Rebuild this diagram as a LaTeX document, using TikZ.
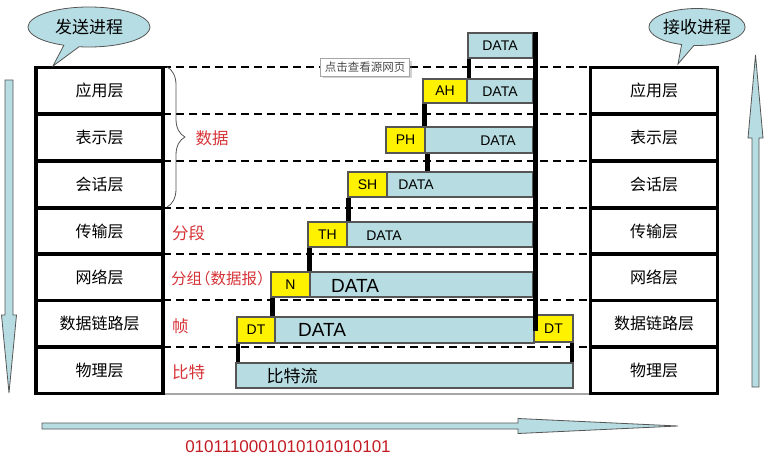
\documentclass[tikz,border=0pt]{standalone}
\usepackage{fontspec}
\setmainfont{Liberation Sans}
\newfontfamily\cjk{Noto Sans CJK SC}
\usetikzlibrary{shapes.callouts,shadows,calc,decorations.pathreplacing}
\definecolor{lb}{RGB}{183,221,226}
\definecolor{bub}{RGB}{183,221,228}
\definecolor{edge}{RGB}{85,85,85}
\definecolor{lbl}{RGB}{214,52,56}
\definecolor{bin}{RGB}{196,28,36}
\tikzset{
  layerbox/.style={draw=black, line width=3.5pt, fill=white, minimum width=127pt, minimum height=46.5pt, inner sep=0pt, font=\cjk\fontsize{16}{16}\selectfont},
  sepline/.style={line width=1.8pt, dash pattern=on 8pt off 5pt},
  datab/.style={draw=edge, line width=1.1pt, fill=lb, inner sep=0pt},
  hdrbox/.style={draw=edge, line width=1.1pt, fill=yellow, inner sep=0pt, font=\fontsize{14}{14}\selectfont},
  dtext/.style={inner sep=0pt, font=\fontsize{14}{14}\selectfont},
  bigtext/.style={inner sep=0pt, font=\fontsize{19}{19}\selectfont},
  marker/.style={line width=4.5pt, black},
  redlabel/.style={text=lbl, inner sep=0pt, font=\cjk\fontsize{16.5}{16.5}\selectfont},
  bubble/.style={ellipse callout, draw=edge, line width=0.8pt, fill=bub, inner sep=0pt, font=\cjk\fontsize{17}{17}\selectfont},
  bigarrow/.style={draw=edge, line width=0.8pt, fill=lb}
}
\begin{document}
\begin{tikzpicture}[x=1pt,y=-1pt]
\useasboundingbox (0,0) rectangle (778,455);
\fill[white] (0,0) rectangle (778,455);

% dashed separators (drawn first, behind)
\coordinate (dl0) at (163,67);  \coordinate (dr0) at (590,67);
\coordinate (dl1) at (163,114); \coordinate (dr1) at (590,114);
\coordinate (dl2) at (163,161); \coordinate (dr2) at (590,161);
\coordinate (dl3) at (163,208); \coordinate (dr3) at (590,208);
\coordinate (dl4) at (163,254); \coordinate (dr4) at (590,254);
\coordinate (dl5) at (163,300); \coordinate (dr5) at (590,300);
\coordinate (dl6) at (163,347); \coordinate (dr6) at (590,347);
\foreach \i in {0,...,6} { \draw[sepline] (dl\i) -- (dr\i); }
\coordinate (gl) at (163,394); \coordinate (gr) at (590,394);
\draw[gray!70, line width=1.3pt] (gl) -- (gr);

% left stack
\node[layerbox] (L1) at (99.5,90.5) {应用层};
\node[layerbox] (L2) at (99.5,137.5) {表示层};
\node[layerbox] (L3) at (99.5,184.5) {会话层};
\node[layerbox] (L4) at (99.5,231) {传输层};
\node[layerbox] (L5) at (99.5,277) {网络层};
\node[layerbox] (L6) at (99.5,323.5) {数据链路层};
\node[layerbox] (L7) at (99.5,370) {物理层};
% right stack
\node[layerbox] (R1) at (654,90.5) {应用层};
\node[layerbox] (R2) at (654,137.5) {表示层};
\node[layerbox] (R3) at (654,184.5) {会话层};
\node[layerbox] (R4) at (654,231) {传输层};
\node[layerbox] (R5) at (654,277) {网络层};
\node[layerbox] (R6) at (654,323.5) {数据链路层};
\node[layerbox] (R7) at (654,370) {物理层};

% brace and red labels
\coordinate (bt) at (167,67); \coordinate (bb) at (167,207);
\draw[edge, line width=0.8pt, decorate, decoration={brace, amplitude=18pt}] (bt) -- (bb);
\node[redlabel] (lab1) at (212,138) {数据};
\node[redlabel, anchor=west] (lab2) at (172,233) {分段};
\node[redlabel, anchor=west, font=\cjk\fontsize{15.5}{15.5}\selectfont] (lab3) at (171,279) {分组\kern-7pt（数据报）};
\node[redlabel, anchor=west] (lab4) at (172,326) {帧};
\node[redlabel, anchor=west] (lab5) at (172,372) {比特};

% data blocks
\node[datab, minimum width=65pt, minimum height=25pt] (D0) at (500.5,45.5) {};
\node[hdrbox, minimum width=44pt, minimum height=24pt] (AH) at (445,91) {AH};
\node[datab, minimum width=66pt, minimum height=24pt] (D1) at (500,91) {};
\node[hdrbox, minimum width=39pt, minimum height=26pt] (PH) at (405.5,140) {PH};
\node[datab, minimum width=108pt, minimum height=26pt] (D2) at (479,140) {};
\node[hdrbox, minimum width=39pt, minimum height=25pt] (SH) at (367.5,184.5) {SH};
\node[datab, minimum width=146pt, minimum height=25pt] (D3) at (460,184.5) {};
\node[hdrbox, minimum width=39pt, minimum height=25pt] (TH) at (327.5,234.5) {TH};
\node[datab, minimum width=186pt, minimum height=25pt] (D4) at (440,234.5) {};
\node[hdrbox, minimum width=39pt, minimum height=25pt] (NH) at (290.5,284.5) {N};
\node[datab, minimum width=223pt, minimum height=25pt] (D5) at (421.5,284.5) {};
\node[hdrbox, minimum width=38pt, minimum height=26pt] (DT1) at (256,330) {DT};
\node[datab, minimum width=259pt, minimum height=26pt] (D6) at (404.5,330) {};
\node[hdrbox, minimum width=39pt, minimum height=27pt] (DT2) at (553.5,328.5) {DT};
\node[datab, minimum width=337pt, minimum height=25pt] (BS) at (404.5,375.5) {};

% texts inside blocks
\node[dtext] (t0) at (500,46) {DATA};
\node[dtext] (t1) at (500,92) {DATA};
\node[dtext] (t2) at (498,141) {DATA};
\node[dtext] (t3) at (416,185) {DATA};
\node[dtext] (t4) at (384,236) {DATA};
\node[bigtext] (t5) at (355,286) {DATA};
\node[bigtext] (t6) at (322,330) {DATA};
\node[inner sep=0pt, font=\cjk\fontsize{17}{17}\selectfont] (tb) at (292,376) {比特流};

% black markers
\draw[marker] ([xshift=1.5pt]D0.south west) -- ([xshift=1.5pt]D0.south west |- D1.north);
\draw[marker] ([xshift=2pt]AH.south west) -- ([xshift=2pt]AH.south west |- D2.north);
\draw[marker] ([xshift=2pt]PH.south east) -- ([xshift=2pt]PH.south east |- D3.north);
\draw[marker] ([xshift=1pt]SH.south west) -- ([xshift=1pt]SH.south west |- D4.north);
\draw[marker] ([xshift=2pt]TH.south west) -- ([xshift=2pt]TH.south west |- D5.north);
\draw[marker] ([xshift=2pt]NH.south west) -- ([xshift=2pt]NH.south west |- D6.north);
\draw[marker] ([xshift=1.5pt]DT1.south west) -- ([xshift=1.5pt]DT1.south west |- BS.north);
\draw[marker] ([xshift=-1.5pt]DT2.south east) -- ([xshift=-1.5pt]DT2.south east |- BS.north);
\draw[marker] ([xshift=2pt]D0.north east) -- ([xshift=2pt,yshift=-1pt]D0.north east |- D6.center);

% note box
\node[draw=gray!70, fill=white, line width=0.6pt, drop shadow={opacity=0.35}, inner xsep=4pt, inner ysep=3.5pt, text=gray!60!black, font=\cjk\fontsize{11.5}{11.5}\selectfont] (note) at (365,67) {点击查看源网页};

% bubbles
\coordinate (tipL) at (53,66);
\coordinate (tipR) at (678,64);
\node[bubble, minimum width=122pt, minimum height=40pt, callout absolute pointer={(tipL)}] (sendp) at (89,27) {发送进程};
\node[bubble, minimum width=92pt, minimum height=37pt, callout absolute pointer={(tipR)}] (recvp) at (697,27) {接收进程};

% big arrows
\draw[bigarrow] (5,80) -- (13,80) -- (13,315) -- (16.5,315) -- (9,393) -- (1.5,315) -- (5,315) -- cycle;
\draw[bigarrow] (752,387) -- (759,387) -- (759,138) -- (763,138) -- (755.5,55) -- (748,138) -- (752,138) -- cycle;
\draw[bigarrow] (42,423) -- (518,423) -- (518,418.5) -- (678,426) -- (518,433.5) -- (518,429) -- (42,429) -- cycle;

\node[text=bin, inner sep=0pt, font=\fontsize{17}{17}\selectfont] (bits) at (288,447) {0101110001010101010101};
\end{tikzpicture}
\end{document}
